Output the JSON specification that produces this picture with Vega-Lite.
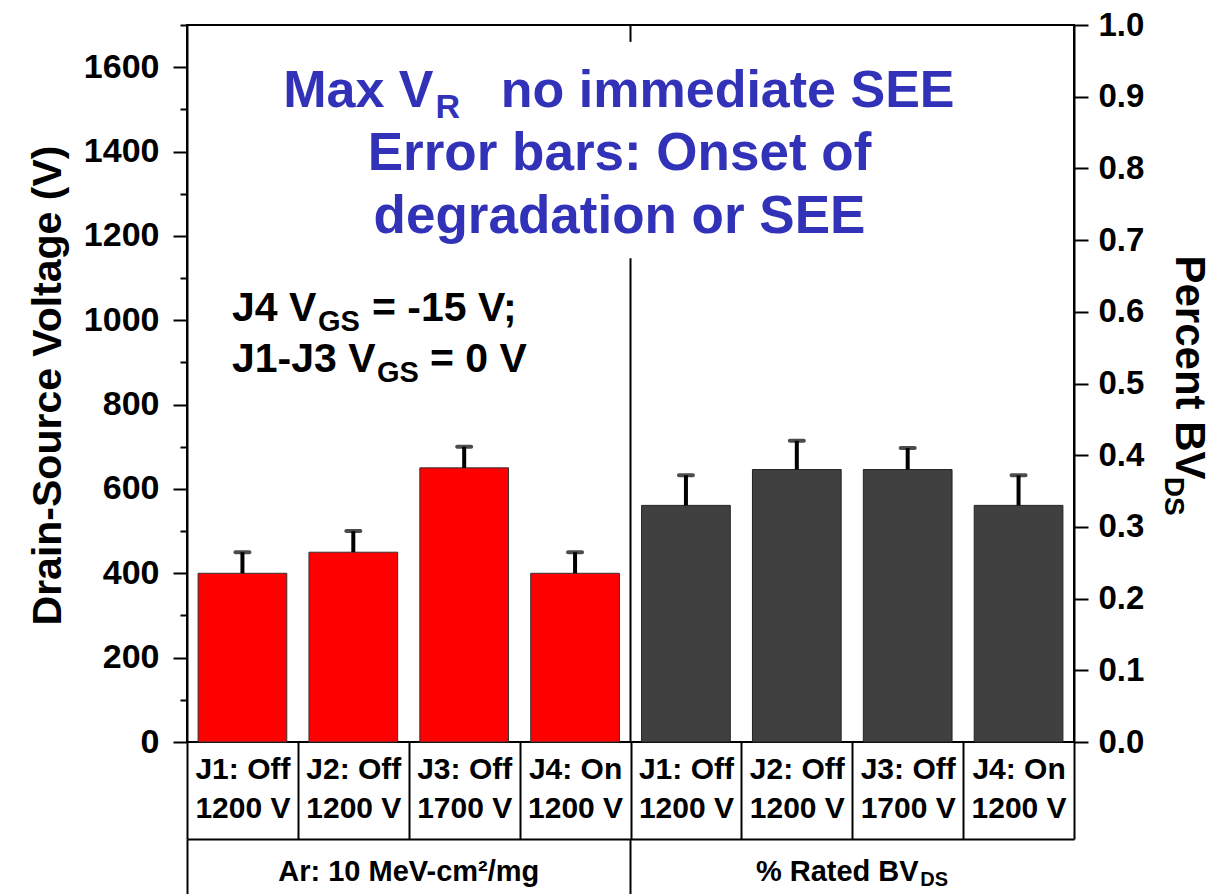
{
  "$schema": "https://vega.github.io/schema/vega-lite/v6.json",
  "width": 887,
  "height": 717,
  "autosize": {"type": "none"},
  "padding": {"left": 187, "top": 25, "right": 154, "bottom": 152},
  "background": "white",
  "config": {
    "font": "Liberation Sans",
    "view": {"stroke": "black", "strokeWidth": 2},
    "axis": {
      "labelFont": "Liberation Sans",
      "titleFont": "Liberation Sans",
      "labelFontWeight": "bold",
      "titleFontWeight": "bold",
      "labelColor": "black",
      "titleColor": "black",
      "domainColor": "black",
      "domainWidth": 2,
      "tickColor": "black",
      "tickWidth": 2,
      "grid": false,
      "labelOverlap": false,
      "labelLimit": 600
    },
    "text": {"font": "Liberation Sans", "fontWeight": "bold"}
  },
  "data": {
    "values": [
      {"cat": "Ar|J1: Off|1200 V", "group": "Ar", "value": 400, "upper": 450},
      {"cat": "Ar|J2: Off|1200 V", "group": "Ar", "value": 450, "upper": 500},
      {"cat": "Ar|J3: Off|1700 V", "group": "Ar", "value": 650, "upper": 700},
      {"cat": "Ar|J4: On|1200 V", "group": "Ar", "value": 400, "upper": 450},
      {"cat": "BV|J1: Off|1200 V", "group": "BV", "value": 0.33, "upper": 0.372},
      {"cat": "BV|J2: Off|1200 V", "group": "BV", "value": 0.38, "upper": 0.42},
      {"cat": "BV|J3: Off|1700 V", "group": "BV", "value": 0.38, "upper": 0.41},
      {"cat": "BV|J4: On|1200 V", "group": "BV", "value": 0.33, "upper": 0.372}
    ]
  },
  "layer": [
    {
      "layer": [
        {
          "transform": [{"filter": "datum.group === 'Ar'"}],
          "mark": {"type": "bar", "fill": "#FF0000", "stroke": "#333333", "strokeWidth": 1, "width": {"band": 0.8}},
          "encoding": {
            "x": {
              "field": "cat", "type": "nominal", "sort": null,
              "scale": {"type": "band", "paddingInner": 0, "paddingOuter": 0,
                "domain": ["Ar|J1: Off|1200 V", "Ar|J2: Off|1200 V", "Ar|J3: Off|1700 V", "Ar|J4: On|1200 V", "BV|J1: Off|1200 V", "BV|J2: Off|1200 V", "BV|J3: Off|1700 V", "BV|J4: On|1200 V"]},
              "axis": {
                "orient": "bottom", "title": null, "domain": false,
                "tickBand": "extent", "tickSize": 97,
                "labelExpr": "slice(split(datum.value, '|'), 1)",
                "labelAngle": 0, "labelFontSize": 30, "labelLineHeight": 39,
                "labelBaseline": "top", "labelPadding": -85
              }
            },
            "y": {
              "field": "value", "type": "quantitative",
              "scale": {"domain": [0, 1700], "nice": false, "zero": true},
              "axis": {
                "orient": "left",
                "values": [0, 100, 200, 300, 400, 500, 600, 700, 800, 900, 1000, 1100, 1200, 1300, 1400, 1500, 1600, 1700],
                "format": "d",
                "labelExpr": "datum.value % 200 === 0 && datum.value < 1700 ? datum.label : ''",
                "tickSize": {"condition": {"test": "datum.value % 200 !== 0", "value": 7}, "value": 14},
                "labelFontSize": 34, "labelPadding": 14,
                "title": "Drain-Source Voltage (V)", "titleFontSize": 41,
                "titleAngle": -90, "titleX": -127, "titleY": 360,
                "titleAlign": "center", "titleBaseline": "alphabetic"
              }
            }
          }
        },
        {
          "transform": [{"filter": "datum.group === 'Ar'"}],
          "mark": {"type": "rule", "color": "black", "strokeWidth": 4},
          "encoding": {
            "x": {"field": "cat", "type": "nominal", "sort": null},
            "y": {"field": "value", "type": "quantitative"},
            "y2": {"field": "upper"}
          }
        },
        {
          "transform": [{"filter": "datum.group === 'Ar'"}],
          "mark": {"type": "tick", "orient": "horizontal", "color": "black", "size": 18, "thickness": 4, "cornerRadius": 2},
          "encoding": {
            "x": {"field": "cat", "type": "nominal", "sort": null},
            "y": {"field": "upper", "type": "quantitative"}
          }
        },
        {
          "data": {"values": [{}]},
          "mark": {"type": "rule", "color": "black", "strokeWidth": 2},
          "encoding": {
            "x": {"datum": "BV|J1: Off|1200 V", "bandPosition": 0},
            "y": {"datum": 0},
            "y2": {"datum": 1147}
          }
        },
        {
          "data": {"values": [{}]},
          "mark": {"type": "rule", "color": "black", "strokeWidth": 2},
          "encoding": {
            "x": {"datum": "BV|J1: Off|1200 V", "bandPosition": 0},
            "y": {"datum": 1660},
            "y2": {"datum": 1700}
          }
        },
        {
          "data": {"values": [{}]},
          "mark": {"type": "text", "text": "Max V", "align": "right", "baseline": "alphabetic", "fontSize": 52, "color": "#3232B9", "dx": -197},
          "encoding": {"x": {"datum": "BV|J1: Off|1200 V", "bandPosition": 0}, "y": {"datum": 1505}}
        },
        {
          "data": {"values": [{}]},
          "mark": {"type": "text", "text": "R", "align": "left", "baseline": "alphabetic", "fontSize": 34, "color": "#3232B9", "dx": -195, "dy": 11},
          "encoding": {"x": {"datum": "BV|J1: Off|1200 V", "bandPosition": 0}, "y": {"datum": 1505}}
        },
        {
          "data": {"values": [{}]},
          "mark": {"type": "text", "text": "no immediate SEE", "align": "right", "baseline": "alphabetic", "fontSize": 52, "color": "#3232B9", "dx": 324},
          "encoding": {"x": {"datum": "BV|J1: Off|1200 V", "bandPosition": 0}, "y": {"datum": 1505}}
        },
        {
          "data": {"values": [{}]},
          "mark": {"type": "text", "text": ["Error bars: Onset of", "degradation or SEE"], "align": "center", "baseline": "alphabetic", "fontSize": 53, "lineHeight": 63, "color": "#3232B9", "dx": -11},
          "encoding": {"x": {"datum": "BV|J1: Off|1200 V", "bandPosition": 0}, "y": {"datum": 1356}}
        },
        {
          "data": {"values": [{}]},
          "mark": {"type": "text", "text": "J4 V", "align": "left", "baseline": "alphabetic", "fontSize": 41, "color": "black", "dx": 45},
          "encoding": {"x": {"datum": "Ar|J1: Off|1200 V", "bandPosition": 0}, "y": {"datum": 998}}
        },
        {
          "data": {"values": [{}]},
          "mark": {"type": "text", "text": "GS", "align": "left", "baseline": "alphabetic", "fontSize": 29, "color": "black", "dx": 131, "dy": 10},
          "encoding": {"x": {"datum": "Ar|J1: Off|1200 V", "bandPosition": 0}, "y": {"datum": 998}}
        },
        {
          "data": {"values": [{}]},
          "mark": {"type": "text", "text": "= -15 V;", "align": "left", "baseline": "alphabetic", "fontSize": 41, "color": "black", "dx": 185},
          "encoding": {"x": {"datum": "Ar|J1: Off|1200 V", "bandPosition": 0}, "y": {"datum": 998}}
        },
        {
          "data": {"values": [{}]},
          "mark": {"type": "text", "text": "J1-J3 V", "align": "left", "baseline": "alphabetic", "fontSize": 41, "color": "black", "dx": 45},
          "encoding": {"x": {"datum": "Ar|J1: Off|1200 V", "bandPosition": 0}, "y": {"datum": 877}}
        },
        {
          "data": {"values": [{}]},
          "mark": {"type": "text", "text": "GS", "align": "left", "baseline": "alphabetic", "fontSize": 29, "color": "black", "dx": 190, "dy": 10},
          "encoding": {"x": {"datum": "Ar|J1: Off|1200 V", "bandPosition": 0}, "y": {"datum": 877}}
        },
        {
          "data": {"values": [{}]},
          "mark": {"type": "text", "text": "= 0 V", "align": "left", "baseline": "alphabetic", "fontSize": 41, "color": "black", "dx": 243},
          "encoding": {"x": {"datum": "Ar|J1: Off|1200 V", "bandPosition": 0}, "y": {"datum": 877}}
        },
        {
          "data": {"values": [{}]},
          "mark": {"type": "text", "text": "DS", "align": "left", "baseline": "alphabetic", "fontSize": 20, "color": "black", "dx": 68, "dy": 144},
          "encoding": {"x": {"datum": "BV|J2: Off|1200 V", "bandPosition": 1}, "y": {"datum": 0}}
        }
      ]
    },
    {
      "layer": [
        {
          "transform": [{"filter": "datum.group === 'BV'"}],
          "mark": {"type": "bar", "fill": "#404040", "stroke": "#222222", "strokeWidth": 1, "width": {"band": 0.8}},
          "encoding": {
            "x": {
              "field": "cat", "type": "nominal", "sort": null,
              "scale": {"type": "band", "paddingInner": 0, "paddingOuter": 0,
                "domain": ["Ar|J1: Off|1200 V", "Ar|J2: Off|1200 V", "Ar|J3: Off|1700 V", "Ar|J4: On|1200 V", "BV|J1: Off|1200 V", "BV|J2: Off|1200 V", "BV|J3: Off|1700 V", "BV|J4: On|1200 V"]},
              "axis": null
            },
            "y": {
              "field": "value", "type": "quantitative",
              "scale": {"domain": [0, 1], "nice": false, "zero": true},
              "axis": {
                "orient": "right",
                "values": [0, 0.05, 0.1, 0.15, 0.2, 0.25, 0.3, 0.35, 0.4, 0.45, 0.5, 0.55, 0.6, 0.65, 0.7, 0.75, 0.8, 0.85, 0.9, 0.95, 1],
                "format": ".1f",
                "labelExpr": "round(datum.value * 20) % 2 === 0 ? datum.label : ''",
                "tickSize": {"condition": {"test": "round(datum.value * 20) % 2 === 1", "value": 7}, "value": 14},
                "labelFontSize": 33, "labelPadding": 10,
                "title": "Percent BV", "titleFontSize": 42,
                "titleAngle": 90, "titleX": 101, "titleY": 342,
                "titleAlign": "center", "titleBaseline": "alphabetic"
              }
            }
          }
        },
        {
          "transform": [{"filter": "datum.group === 'BV'"}],
          "mark": {"type": "rule", "color": "black", "strokeWidth": 4},
          "encoding": {
            "x": {"field": "cat", "type": "nominal", "sort": null},
            "y": {"field": "value", "type": "quantitative"},
            "y2": {"field": "upper"}
          }
        },
        {
          "transform": [{"filter": "datum.group === 'BV'"}],
          "mark": {"type": "tick", "orient": "horizontal", "color": "black", "size": 18, "thickness": 4, "cornerRadius": 2},
          "encoding": {
            "x": {"field": "cat", "type": "nominal", "sort": null},
            "y": {"field": "upper", "type": "quantitative"}
          }
        },
        {
          "data": {"values": [{}]},
          "mark": {"type": "text", "text": "DS", "align": "left", "baseline": "alphabetic", "angle": 90, "fontSize": 28, "color": "black", "dy": -91},
          "encoding": {"x": {"datum": "BV|J4: On|1200 V", "bandPosition": 1}, "y": {"datum": 0.37}}
        }
      ]
    },
    {
      "mark": {"type": "rule", "opacity": 0},
      "encoding": {
        "x": {
          "field": "group", "type": "nominal", "sort": null,
          "scale": {"type": "band", "paddingInner": 0, "paddingOuter": 0, "domain": ["Ar", "BV"]},
          "axis": {
            "orient": "bottom", "offset": 97, "title": null,
            "domain": true, "bandPosition": 0, "tickSize": 55,
            "labelExpr": "datum.value === 'Ar' ? 'Ar: 10 MeV-cm²/mg' : '% Rated BV'",
            "labelOffset": {"condition": {"test": "datum.value === 'BV'", "value": -15}, "value": 0},
            "labelAngle": 0, "labelFontSize": 29, "labelBaseline": "top", "labelPadding": -37
          }
        }
      }
    }
  ],
  "resolve": {"scale": {"x": "independent", "y": "independent"}}
}
